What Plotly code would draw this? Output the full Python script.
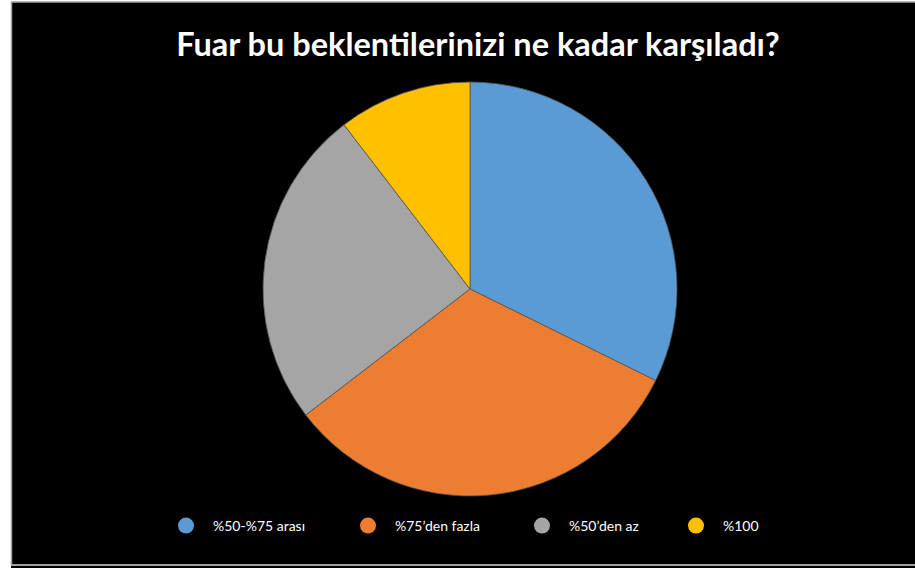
import plotly.graph_objects as go

title_text = "Fuar bu beklentilerinizi ne kadar karşıladı?"
categories = ["%50-%75 arası", "%75’den fazla", "%50’den az", "%100"]
values = [31, 31, 24, 10]
colors = ["#5B9BD5", "#ED7D31", "#A5A5A5", "#FFC000"]

W, H = 915, 568
cx, cy, r = 470, 289, 207

fig = go.Figure()
fig.add_trace(go.Pie(
    labels=categories, values=values, sort=False, direction="clockwise", rotation=0,
    marker=dict(colors=colors, line=dict(color="#555555", width=0.8)),
    textinfo="none", hoverinfo="label+value+percent", showlegend=False,
    domain=dict(x=[(cx - r) / W, (cx + r) / W], y=[(H - cy - r) / H, (H - cy + r) / H]),
))

legend_centers = [186, 368, 542, 696]
layout_legends = {}
for i, (cat, col) in enumerate(zip(categories, colors)):
    name = "legend" if i == 0 else f"legend{i+1}"
    fig.add_trace(go.Scatter(
        x=[None], y=[None], mode="markers", name=cat, legend=name,
        marker=dict(symbol="circle", size=16, color=col), showlegend=True,
    ))
    layout_legends[name] = dict(
        x=(legend_centers[i] - 27) / W, xanchor="left", y=(H - 526) / H, yanchor="middle",
        orientation="h", bgcolor="rgba(0,0,0,0)", itemwidth=44,
        font=dict(family="Lato, Open Sans, sans-serif", size=14, color="#FFFFFF"),
    )

fig.update_layout(
    width=W, height=H, margin=dict(l=0, r=0, t=0, b=0),
    paper_bgcolor="#FFFFFF", plot_bgcolor="rgba(0,0,0,0)",
    xaxis=dict(visible=False), yaxis=dict(visible=False),
    title=dict(text=f"<b>{title_text}</b>", x=478 / W, xanchor="center", y=1 - 45 / H, yanchor="middle",
               font=dict(family="Lato, Open Sans, sans-serif", size=32.5, color="#FFFFFF")),
    shapes=[
        dict(type="rect", xref="paper", yref="paper", x0=11 / W, x1=1.02, y0=-0.02, y1=1 - 2 / H,
             fillcolor="#000000", line=dict(width=0), layer="below"),
        dict(type="line", xref="paper", yref="paper", x0=11 / W, x1=1.02, y0=1 - 2 / H, y1=1 - 2 / H,
             line=dict(color="#A0A0A0", width=1.5), layer="below"),
        dict(type="line", xref="paper", yref="paper", x0=11 / W, x1=1.02, y0=1 - 565 / H, y1=1 - 565 / H,
             line=dict(color="#A0A0A0", width=2), layer="below"),
        dict(type="line", xref="paper", yref="paper", x0=11.5 / W, x1=11.5 / W, y0=1 - 565 / H, y1=1 - 2 / H,
             line=dict(color="#A0A0A0", width=1.5), layer="below"),
    ],
    **layout_legends,
)

fig.write_html("out.html", config={"displayModeBar": False},
               post_script="document.body.style.margin='0px';")
